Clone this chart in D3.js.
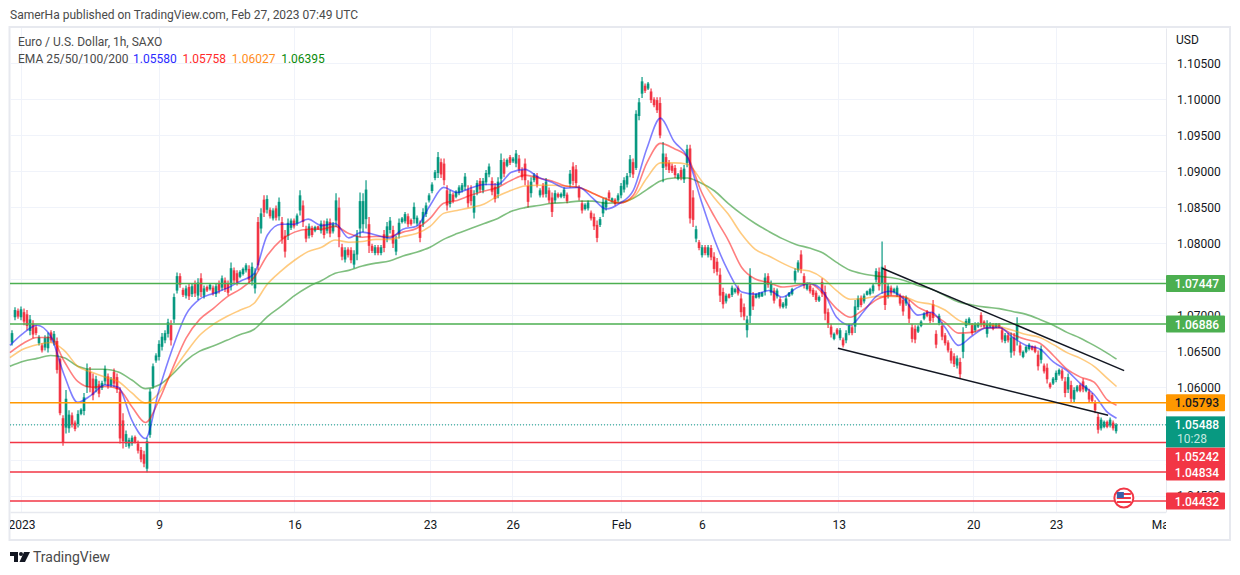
<!DOCTYPE html>
<meta charset="utf-8">
<title>EUR/USD 1h</title>
<script src="https://d3js.org/d3.v7.min.js"></script>
<style>
body {
	margin: 0;
	background: #fff;
	font-family: Roboto, sans-serif;
}
text {
	font-family: Roboto, sans-serif;
}
</style>
<body>
<script>
// All prices are in pips (price * 10000), days are trading days counted from Jan 2
const firstBarDay = -0.424;
const barDayStep = 0.1107;

const highs = [
	10680,10712,10710,10713,10710,10708,10701,10694,10687,10673,
	10662,10673,10677,10680,10679,10670,10642,10562,10597,10569,
	10566,10555,10569,10572,10593,10634,10629,10620,10617,10610,
	10610,10631,10620,10615,10627,10620,10601,10565,10541,10531,
	10534,10534,10527,10518,10513,10531,10599,10634,10648,10666,
	10676,10680,10696,10694,10731,10760,10759,10739,10742,10745,
	10745,10749,10752,10759,10742,10742,10745,10742,10745,10749,
	10756,10753,10749,10774,10767,10763,10763,10767,10773,10770,
	10774,10766,10837,10849,10867,10867,10850,10849,10853,10864,
	10837,10819,10835,10835,10835,10842,10874,10860,10825,10828,
	10825,10825,10825,10832,10832,10835,10835,10830,10870,10864,
	10800,10795,10795,10795,10791,10819,10871,10870,10888,10837,
	10800,10798,10798,10798,10819,10830,10837,10825,10811,10835,
	10837,10844,10842,10835,10857,10839,10832,10849,10857,10870,
	10885,10902,10927,10918,10918,10881,10874,10871,10874,10881,
	10884,10898,10881,10881,10874,10888,10891,10891,10902,10911,
	10892,10884,10892,10925,10918,10918,10923,10920,10930,10923,
	10906,10918,10888,10892,10898,10898,10877,10884,10891,10878,
	10871,10874,10871,10871,10878,10871,10902,10913,10909,10881,
	10860,10856,10860,10846,10842,10832,10837,10863,10864,10874,
	10864,10863,10870,10884,10892,10898,10923,10918,10985,11002,
	11031,11022,11024,11015,11003,11003,11003,10941,10925,10916,
	10911,10909,10898,10906,10909,10937,10937,10874,10825,10805,
	10798,10798,10798,10798,10788,10780,10766,10739,10731,10731,
	10742,10739,10742,10731,10717,10700,10766,10733,10731,10733,
	10733,10759,10759,10749,10739,10738,10726,10719,10728,10733,
	10739,10766,10777,10791,10759,10746,10745,10739,10735,10728,
	10752,10742,10710,10689,10677,10683,10683,10670,10680,10689,
	10687,10722,10728,10728,10731,10735,10739,10745,10766,10767,
	10803,10770,10745,10742,10739,10742,10731,10728,10728,10722,
	10689,10687,10687,10694,10705,10708,10705,10722,10680,10703,
	10691,10676,10666,10655,10648,10645,10642,10684,10696,10698,
	10690,10691,10691,10705,10694,10694,10691,10690,10690,10690,
	10684,10676,10676,10677,10676,10698,10663,10652,10659,10662,
	10659,10659,10652,10659,10634,10634,10608,10615,10624,10627,
	10627,10615,10620,10610,10601,10604,10606,10613,10604,10599,
	10593,10583,10565,10559,10555,10555,10559,10555,10551,
];
const lows = [
	10659,10694,10696,10694,10687,10680,10673,10669,10673,10659,
	10649,10652,10649,10663,10659,10620,10562,10520,10537,10538,
	10545,10540,10545,10562,10562,10593,10594,10583,10594,10587,
	10597,10604,10599,10601,10601,10593,10523,10516,10518,10516,
	10520,10523,10509,10497,10490,10483,10531,10599,10635,10638,
	10652,10662,10670,10659,10690,10731,10739,10726,10724,10722,
	10726,10726,10722,10726,10724,10733,10735,10728,10726,10731,
	10735,10733,10728,10735,10745,10742,10752,10756,10760,10745,
	10742,10731,10763,10814,10837,10842,10835,10832,10832,10832,
	10800,10781,10805,10819,10821,10825,10839,10823,10802,10807,
	10809,10816,10819,10814,10807,10814,10809,10814,10823,10795,
	10777,10774,10781,10773,10766,10777,10809,10816,10821,10787,
	10787,10784,10784,10784,10788,10802,10814,10794,10784,10807,
	10828,10828,10823,10825,10828,10825,10802,10823,10837,10857,
	10870,10888,10891,10891,10881,10846,10850,10856,10863,10867,
	10871,10874,10850,10853,10835,10867,10871,10870,10881,10892,
	10867,10857,10863,10881,10892,10906,10909,10912,10906,10898,
	10888,10881,10850,10864,10885,10878,10864,10864,10864,10856,
	10837,10856,10863,10863,10863,10856,10878,10881,10878,10860,
	10842,10846,10846,10832,10819,10802,10823,10837,10846,10860,
	10857,10853,10857,10863,10871,10878,10892,10891,10902,10971,
	11002,11009,11013,10995,10989,10981,10946,10885,10902,10898,
	10898,10891,10888,10888,10884,10906,10828,10823,10802,10791,
	10781,10784,10781,10777,10759,10756,10719,10710,10717,10724,
	10726,10731,10728,10698,10694,10670,10690,10708,10724,10724,
	10726,10728,10739,10728,10717,10724,10710,10710,10710,10726,
	10728,10745,10760,10759,10738,10735,10731,10726,10719,10719,
	10726,10694,10683,10670,10666,10673,10666,10656,10662,10673,
	10673,10676,10708,10712,10717,10728,10728,10731,10746,10735,
	10731,10708,10724,10728,10731,10726,10714,10700,10714,10690,
	10663,10662,10676,10684,10694,10698,10690,10691,10655,10687,
	10666,10659,10649,10634,10629,10627,10613,10641,10683,10687,
	10673,10677,10683,10684,10683,10670,10683,10680,10683,10683,
	10663,10662,10663,10642,10645,10659,10645,10641,10648,10652,
	10652,10648,10624,10634,10620,10606,10599,10604,10608,10617,
	10610,10587,10593,10579,10580,10594,10594,10594,10594,10580,
	10579,10565,10537,10541,10544,10544,10545,10541,10537,
];
const opens = [
	10663,10698,10707,10698,10705,10702,10679,10689,10684,10662,
	10659,10656,10655,10677,10663,10665,10640,10558,10545,10544,
	10562,10552,10550,10564,10568,10601,10622,10613,10599,10605,
	10600,10609,10616,10604,10622,10615,10595,10555,10523,10519,
	10523,10532,10523,10514,10508,10488,10535,10602,10638,10643,
	10657,10666,10675,10687,10695,10735,10755,10736,10728,10740,
	10730,10744,10728,10752,10728,10740,10737,10739,10730,10745,
	10739,10749,10745,10743,10763,10759,10754,10758,10763,10765,
	10748,10738,10830,10821,10861,10847,10847,10835,10849,10838,
	10830,10811,10811,10822,10832,10828,10846,10853,10820,10811,
	10822,10818,10824,10818,10827,10818,10830,10817,10832,10850,
	10795,10778,10792,10791,10771,10785,10821,10827,10834,10827,
	10797,10787,10795,10787,10813,10808,10819,10819,10789,10813,
	10830,10831,10838,10833,10834,10828,10826,10828,10841,10860,
	10873,10891,10898,10913,10911,10874,10855,10868,10865,10870,
	10874,10879,10875,10875,10843,10871,10887,10874,10885,10896,
	10887,10879,10869,10890,10913,10908,10920,10914,10911,10918,
	10902,10911,10880,10870,10888,10894,10867,10880,10869,10874,
	10864,10860,10869,10865,10866,10868,10883,10907,10903,10877,
	10856,10848,10849,10843,10837,10826,10826,10842,10850,10871,
	10858,10861,10860,10867,10875,10882,10898,10913,10905,10977,
	11008,11019,11015,11011,11000,10999,10995,10905,10920,10912,
	10908,10905,10890,10902,10889,10912,10932,10864,10807,10802,
	10784,10795,10784,10794,10782,10775,10757,10733,10720,10730,
	10729,10733,10739,10724,10712,10680,10700,10728,10725,10726,
	10727,10734,10755,10732,10735,10727,10723,10712,10714,10727,
	10730,10749,10763,10785,10755,10737,10742,10736,10732,10721,
	10747,10733,10705,10685,10668,10681,10669,10667,10666,10676,
	10684,10685,10712,10725,10720,10729,10730,10734,10750,10761,
	10745,10765,10728,10739,10733,10729,10728,10722,10717,10716,
	10684,10682,10678,10686,10696,10706,10702,10716,10675,10690,
	10686,10673,10663,10651,10644,10631,10636,10650,10686,10689,
	10687,10680,10685,10701,10692,10675,10685,10688,10684,10689,
	10680,10665,10673,10649,10670,10667,10659,10643,10650,10654,
	10658,10657,10646,10639,10631,10628,10606,10606,10611,10619,
	10624,10609,10598,10604,10584,10596,10604,10609,10596,10595,
	10590,10579,10560,10544,10546,10553,10548,10552,10540,
];
const closes = [
	10676,10708,10699,10709,10692,10686,10695,10674,10676,10670,
	10652,10669,10671,10666,10675,10625,10565,10525,10585,10563,
	10549,10543,10564,10570,10587,10626,10601,10590,10612,10592,
	10607,10626,10603,10612,10606,10598,10530,10526,10536,10528,
	10531,10525,10513,10501,10495,10526,10595,10630,10645,10661,
	10671,10676,10691,10666,10726,10755,10743,10729,10738,10727,
	10741,10731,10746,10733,10738,10735,10743,10731,10741,10735,
	10752,10737,10732,10766,10749,10746,10761,10765,10770,10750,
	10768,10759,10770,10842,10843,10862,10838,10846,10836,10858,
	10807,10789,10829,10832,10824,10839,10867,10830,10807,10824,
	10812,10823,10820,10828,10812,10831,10814,10827,10860,10809,
	10782,10791,10784,10777,10786,10811,10859,10859,10875,10797,
	10790,10795,10787,10795,10794,10824,10832,10800,10806,10829,
	10835,10841,10827,10827,10851,10836,10808,10844,10853,10867,
	10882,10899,10920,10896,10888,10853,10869,10859,10872,10878,
	10881,10893,10856,10859,10866,10884,10875,10887,10898,10907,
	10872,10862,10886,10916,10897,10916,10912,10918,10925,10903,
	10892,10888,10858,10886,10895,10882,10874,10868,10886,10860,
	10844,10870,10865,10869,10875,10859,10897,10887,10884,10864,
	10846,10854,10857,10835,10824,10808,10834,10858,10860,10863,
	10863,10855,10867,10880,10888,10894,10917,10896,10980,10996,
	11025,11012,11022,10999,10992,10985,10950,10925,10907,10902,
	10901,10895,10896,10892,10904,10931,10835,10833,10820,10794,
	10795,10787,10795,10781,10765,10761,10728,10716,10728,10725,
	10739,10737,10731,10705,10699,10695,10755,10713,10730,10731,
	10732,10753,10743,10745,10721,10735,10713,10717,10724,10732,
	10737,10762,10774,10765,10742,10744,10734,10729,10722,10726,
	10731,10703,10688,10674,10675,10675,10680,10659,10676,10686,
	10676,10713,10724,10715,10728,10734,10737,10742,10762,10741,
	10768,10715,10741,10731,10737,10739,10717,10706,10725,10696,
	10668,10667,10685,10692,10703,10700,10693,10697,10660,10700,
	10671,10662,10652,10638,10633,10641,10619,10675,10693,10696,
	10676,10688,10689,10688,10685,10689,10689,10682,10689,10684,
	10667,10673,10666,10670,10651,10690,10649,10650,10657,10660,
	10653,10650,10630,10654,10623,10612,10601,10613,10621,10625,
	10613,10593,10615,10585,10597,10602,10596,10598,10602,10584,
	10582,10569,10542,10556,10553,10546,10556,10544,10549,
];

// EMA readings, one every half trading day plus the last bar
const emaDays = d3.range(-0.5, 40.01, 0.5).concat(40.33);
const ema25 = [
	10659,10676,10687,10672,10618,10580,10590,10604,10601,10555,10530,10597,10655,10702,10723,10731,10738,10748,10758,10812,
	10827,10827,10834,10825,10828,10808,10816,10812,10808,10820,10824,10853,10878,10871,10877,10882,10882,10899,10903,10892,
	10885,10877,10878,10863,10848,10856,10874,10932,10974,10942,10920,10860,10805,10762,10733,10730,10735,10726,10738,10745,
	10734,10698,10687,10706,10728,10734,10723,10701,10705,10684,10659,10672,10683,10684,10670,10659,10654,10636,10624,10606,
	10591,10566,10558,
];
const ema50 = [
	10649,10662,10670,10670,10637,10609,10601,10602,10599,10574,10552,10583,10627,10669,10695,10710,10726,10737,10753,10784,
	10805,10816,10820,10820,10824,10814,10809,10810,10810,10816,10821,10835,10856,10860,10867,10873,10878,10888,10895,10891,
	10887,10880,10878,10870,10862,10856,10867,10912,10939,10932,10920,10873,10837,10805,10767,10751,10746,10740,10742,10745,
	10731,10710,10698,10709,10723,10728,10726,10712,10703,10691,10676,10677,10683,10683,10674,10667,10662,10645,10626,10615,
	10608,10583,10576,
];
const ema100 = [
	10642,10654,10660,10663,10652,10630,10622,10615,10609,10593,10579,10593,10622,10649,10673,10688,10699,10708,10717,10744,
	10762,10777,10789,10795,10805,10802,10803,10806,10806,10810,10814,10824,10842,10846,10850,10855,10866,10874,10880,10881,
	10881,10880,10878,10870,10862,10857,10864,10891,10912,10912,10910,10888,10863,10841,10813,10792,10783,10773,10765,10762,
	10752,10735,10723,10724,10727,10727,10726,10719,10716,10708,10694,10688,10688,10685,10680,10674,10670,10660,10649,10641,
	10630,10613,10602,
];
const ema200 = [
	10630,10637,10641,10645,10642,10630,10626,10626,10622,10611,10599,10604,10619,10638,10651,10658,10666,10674,10681,10699,
	10713,10728,10740,10749,10759,10763,10769,10773,10776,10783,10788,10795,10806,10814,10821,10828,10835,10845,10850,10853,
	10856,10857,10859,10859,10856,10857,10863,10875,10887,10891,10891,10884,10873,10856,10841,10828,10817,10807,10799,10794,
	10787,10774,10763,10758,10755,10753,10749,10742,10737,10728,10719,10715,10712,10710,10706,10702,10695,10687,10677,10669,
	10659,10648,10640,
];
const emaColors = ['#0000ff', '#ff0000', '#ff9800', '#008000'];
const emaNames = ['1.05580', '1.05758', '1.06027', '1.06395'];
const emaTextColors = ['#2a2aff', '#ff2a2a', '#ff8c1a', '#0a8a0a'];

const priceTicks = [11050, 11000, 10950, 10900, 10850, 10800, 10750, 10700, 10650, 10600, 10550, 10500, 10450];
// these two sit fully behind the price tags
const hiddenTicks = [10550, 10500];
const dayTicks = [-0.07, 5, 10, 15, 18.05, 22.05, 25.03, 30.08, 35.04, 38.1, 42];
const dayLabels = ['2023', '9', '16', '23', '26', 'Feb', '6', '13', '20', '23', 'Mar'];

const levelPrices = [10744.7, 10688.6, 10579.3, 10524.2, 10483.4, 10443.2];
const levelColors = ['#4caf50', '#4caf50', '#ff9800', '#f23645', '#f23645', '#f23645'];
const lastPrice = 10548.8;
const upperTrendDays = [31.68, 40.61];
const upperTrendPrices = [10766, 10624];
const lowerTrendDays = [30.05, 40.02];
const lowerTrendPrices = [10655, 10562];
const eventDay = 40.6;

const upColor = '#089981';
const downColor = '#f23645';
const gridColor = '#f0f3fa';
const textColor = '#131722';
const frameColor = '#e7e9ef';

const width = 1240;
const height = 575;
const plot = { left: 10, right: 1166, top: 28, bottom: 512 };

const x = d3.scaleLinear().domain([-0.498, 42.155]).range([plot.left, plot.right]);
const y = d3.scaleLinear().domain([11099, 10428]).range([plot.top, plot.bottom]);
const priceText = d => (d / 10000).toFixed(5);

const svg = d3.select('body')
	.append('svg')
		.attr('width', width)
		.attr('height', height)
		.style('display', 'block');

svg.append('clipPath').attr('id', 'plot-clip')
	.append('rect')
		.attr('x', plot.left)
		.attr('y', plot.top)
		.attr('width', plot.right - plot.left)
		.attr('height', height - plot.top);

// Header and frame
svg.append('text')
	.attr('x', 10)
	.attr('y', 19)
	.attr('font-size', 12)
	.attr('fill', '#4a4a4a')
	.text('SamerHa published on TradingView.com, Feb 27, 2023 07:49 UTC');

svg.append('rect')
	.attr('x', 9.5)
	.attr('y', 27)
	.attr('width', 1220.5)
	.attr('height', 513)
	.attr('fill', 'none')
	.attr('stroke', frameColor)
	.attr('stroke-width', 2);

// Grid
const chart = svg.append('g').attr('shape-rendering', 'crispEdges');
chart.append('g')
	.selectAll('line')
	.data(priceTicks)
	.join('line')
		.attr('x1', plot.left)
		.attr('x2', plot.right)
		.attr('y1', d => y(d))
		.attr('y2', d => y(d))
		.attr('stroke', gridColor);
chart.append('g')
	.selectAll('line')
	.data(dayTicks.slice(0, 10))
	.join('line')
		.attr('x1', d => x(d))
		.attr('x2', d => x(d))
		.attr('y1', plot.top)
		.attr('y2', plot.bottom)
		.attr('stroke', gridColor);

// Axes
const rightAxis = svg.append('g')
	.attr('transform', `translate(${plot.right}, 0)`)
	.call(d3.axisRight(y).tickValues(priceTicks).tickFormat(priceText).tickSize(0).tickPadding(11));
rightAxis.select('.domain').attr('stroke', frameColor);
rightAxis.selectAll('.tick')
	.filter(d => hiddenTicks.includes(d))
	.remove();
rightAxis.selectAll('text')
	.attr('font-size', 12)
	.attr('fill', textColor);

const bottomClip = svg.append('g').attr('clip-path', 'url(#plot-clip)');
const bottomAxis = bottomClip.append('g')
	.attr('transform', `translate(0, ${plot.bottom})`)
	.call(d3.axisBottom(x).tickValues(dayTicks).tickFormat((d, i) => dayLabels[i]).tickSize(0).tickPadding(8));
bottomAxis.select('.domain').attr('stroke', frameColor).attr('stroke-width', 1.5);
bottomAxis.selectAll('text')
	.attr('font-size', 12)
	.attr('fill', textColor);

svg.append('text')
	.attr('x', 1176)
	.attr('y', 44)
	.attr('font-size', 12)
	.attr('fill', textColor)
	.text('USD');

// Candles
const barIndex = d3.range(highs.length);
const barX = i => x(firstBarDay + i * barDayStep);
const barColor = i => closes[i] >= opens[i] ? upColor : downColor;
const candles = svg.append('g').attr('clip-path', 'url(#plot-clip)');
candles.selectAll('.wick')
	.data(barIndex)
	.join('line')
		.attr('class', 'wick')
		.attr('x1', barX)
		.attr('x2', barX)
		.attr('y1', i => y(highs[i]))
		.attr('y2', i => y(lows[i]))
		.attr('stroke', barColor)
		.attr('stroke-width', 1.2);
candles.selectAll('.body')
	.data(barIndex)
	.join('rect')
		.attr('class', 'body')
		.attr('x', i => barX(i) - 1.3)
		.attr('width', 2.6)
		.attr('y', i => y(Math.max(opens[i], closes[i])))
		.attr('height', i => Math.max(1, Math.abs(y(opens[i]) - y(closes[i]))))
		.attr('fill', barColor);

// EMAs
const emaLine = d3.line()
	.x((d, i) => x(emaDays[i]))
	.y(d => y(d))
	.curve(d3.curveMonotoneX);
svg.append('g')
	.selectAll('path')
	.data([ema200, ema100, ema50, ema25])
	.join('path')
		.attr('fill', 'none')
		.attr('stroke', (d, i) => emaColors[3 - i])
		.attr('stroke-opacity', 0.5)
		.attr('stroke-width', 1.6)
		.attr('d', emaLine);

// Horizontal levels
const levels = svg.append('g');
levels.selectAll('.level')
	.data(levelPrices)
	.join('line')
		.attr('class', 'level')
		.attr('x1', plot.left)
		.attr('x2', plot.right)
		.attr('y1', d => y(d))
		.attr('y2', d => y(d))
		.attr('stroke', (d, i) => levelColors[i])
		.attr('stroke-width', 1.5);
levels.append('line')
	.attr('x1', plot.left)
	.attr('x2', plot.right)
	.attr('y1', y(lastPrice))
	.attr('y2', y(lastPrice))
	.attr('stroke', upColor)
	.attr('stroke-dasharray', '1 2');

// Trend lines
[[upperTrendDays, upperTrendPrices], [lowerTrendDays, lowerTrendPrices]].forEach(([days, prices]) => {
	svg.append('line')
		.attr('x1', x(days[0]))
		.attr('x2', x(days[1]))
		.attr('y1', y(prices[0]))
		.attr('y2', y(prices[1]))
		.attr('stroke', '#131722')
		.attr('stroke-width', 1.5);
});

// Price tags on the right axis
const tagOffsets = [0, 0, 0, 13.5, 0, 0];
const tags = svg.append('g')
	.selectAll('g')
	.data(levelPrices)
	.join('g')
		.attr('transform', (d, i) => `translate(${plot.right}, ${y(d) + tagOffsets[i]})`);
tags.append('rect')
	.attr('y', -8.5)
	.attr('width', 59)
	.attr('height', 17)
	.attr('rx', 1)
	.attr('fill', (d, i) => levelColors[i]);
tags.append('text')
	.attr('x', 31)
	.attr('y', 4.5)
	.attr('text-anchor', 'middle')
	.attr('font-size', 12)
	.attr('font-weight', 500)
	.attr('fill', (d, i) => i === 2 ? textColor : '#fff')
	.text(priceText);

const lastTag = svg.append('g')
	.attr('transform', `translate(${plot.right}, ${y(lastPrice)})`);
lastTag.append('rect')
	.attr('y', -8.5)
	.attr('width', 59)
	.attr('height', 31)
	.attr('fill', upColor);
lastTag.append('text')
	.attr('x', 31)
	.attr('y', 4.5)
	.attr('text-anchor', 'middle')
	.attr('font-size', 12)
	.attr('font-weight', 500)
	.attr('fill', '#fff')
	.text(priceText(lastPrice));
lastTag.append('text')
	.attr('x', 11)
	.attr('y', 18.5)
	.attr('font-size', 12)
	.attr('fill', '#c4e8e0')
	.text('10:28');

// Legend
const legend = svg.append('g').attr('font-size', 12).attr('fill', '#4a4a4a');
legend.append('text').attr('x', 18).attr('y', 46).text('Euro / U.S. Dollar, 1h, SAXO');
legend.append('text').attr('x', 18).attr('y', 63).text('EMA 25/50/100/200');
legend.selectAll('.ema-value')
	.data(emaNames)
	.join('text')
		.attr('class', 'ema-value')
		.attr('x', (d, i) => 133 + i * 49.4)
		.attr('y', 63)
		.attr('fill', (d, i) => emaTextColors[i])
		.text(d => d);

// US economic event marker
const flag = svg.append('g').attr('transform', `translate(${x(eventDay)}, 498)`);
flag.append('circle').attr('r', 9.5).attr('fill', '#fff').attr('stroke', downColor).attr('stroke-width', 2);
flag.append('rect').attr('x', -7).attr('y', -5).attr('width', 14).attr('height', 2).attr('fill', downColor);
flag.append('rect').attr('x', -7).attr('y', -1).attr('width', 14).attr('height', 2).attr('fill', downColor);
flag.append('rect').attr('x', -7).attr('y', 3).attr('width', 14).attr('height', 2).attr('fill', downColor);
flag.append('rect').attr('x', -7).attr('y', -6).attr('width', 7).attr('height', 6).attr('fill', '#3c5fa8');

// Footer logo
const logo = svg.append('g').attr('transform', 'translate(10, 552)').attr('fill', '#131722');
logo.append('path').attr('d', 'M0 0H8V10H4V4H0Z');
logo.append('circle').attr('cx', 11).attr('cy', 2).attr('r', 2);
logo.append('path').attr('d', 'M14 0H20L15 10H9.5Z');
svg.append('text')
	.attr('x', 33)
	.attr('y', 562)
	.attr('font-size', 14)
	.attr('fill', '#4a4a4a')
	.text('TradingView');
</script>
</body>
